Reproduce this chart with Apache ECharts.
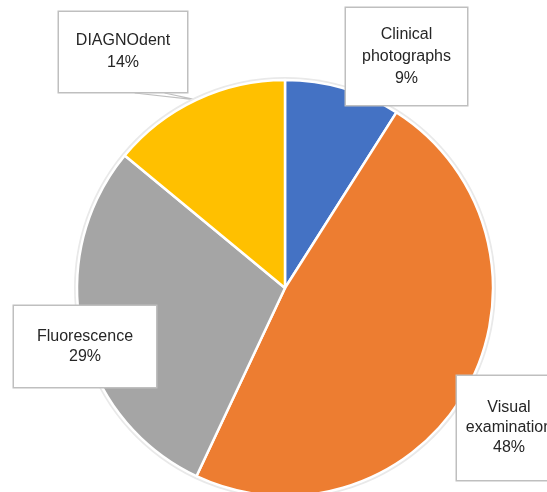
<!DOCTYPE html>
<html><head><meta charset="utf-8">
<script src="https://cdn.jsdelivr.net/npm/echarts@6/dist/echarts.min.js"></script>
<style>html,body{margin:0;padding:0;background:#fff}#c{width:547px;height:492px}</style>
</head><body><div id="c"></div>
<script>
const categories = ['Clinical\nphotographs', 'Visual\nexamination', 'Fluorescence', 'DIAGNOdent'];
const values = [9, 48, 29, 14];
const colors = ['#4472C4', '#ED7D31', '#A5A5A5', '#FFC000'];

// label box geometry (layout only): left, top, width, height
const boxes = [
  {x: 345, y: 7, w: 123, h: 99},
  {x: 456, y: 375, w: 106, h: 106},
  {x: 13, y: 305, w: 144, h: 83},
  {x: 58, y: 11, w: 130, h: 82}
];
const lineHeights = [22, 20, 20, 22];
const showLine = [false, false, false, true];

const chart = echarts.init(document.getElementById('c'), null, {renderer: 'canvas'});
const data = categories.map((n, i) => ({
  name: n, value: values[i],
  itemStyle: {color: colors[i]},
  label: {width: boxes[i].w - 2, height: boxes[i].h - 2, lineHeight: lineHeights[i]},
  labelLine: {show: showLine[i]}
}));
chart.setOption({
  animation: false,
  series: [{
    type: 'pie', silent: true, center: [285, 288], radius: 211, startAngle: 90,
    data: [{value: 1, itemStyle: {color: '#E9E9E9'}}], label: {show: false}, labelLine: {show: false}
  }, {
    type: 'pie', center: [285, 288], radius: 208, startAngle: 90, clockwise: true,
    itemStyle: {borderColor: '#fff', borderWidth: 2.5},
    label: {
      show: true, position: 'outside',
      formatter: p => p.name + '\n' + p.value + '%',
      fontFamily: 'Liberation Sans', fontSize: 16, color: '#262626', lineHeight: 22,
      align: 'center', verticalAlign: 'middle',
      backgroundColor: '#fff', borderColor: '#BFBFBF', borderWidth: 1.5, padding: 0
    },
    labelLine: {lineStyle: {color: '#BFBFBF', width: 1.2}, length: 10, length2: 10},
    labelLayout: function (params) {
      const b = boxes[params.dataIndex];
      const res = {x: b.x + b.w / 2, y: b.y + b.h / 2, align: 'center', verticalAlign: 'middle'};
      if (showLine[params.dataIndex] && params.labelLinePoints) {
        const a = params.labelLinePoints[0];
        const bottom = b.y + b.h;
        res.labelLinePoints = [[b.x + b.w * 0.59, bottom], a, [b.x + b.w * 0.82, bottom]];
      }
      return res;
    },
    data: data
  }]
});
</script></body></html>
